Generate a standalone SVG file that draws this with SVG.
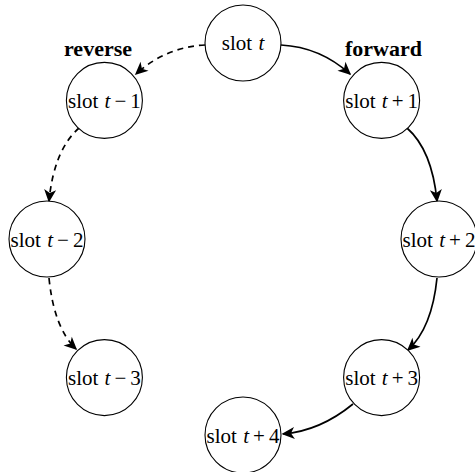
<svg xmlns="http://www.w3.org/2000/svg" width="475" height="472" viewBox="0 0 475 472">
<style>
.node circle{fill:#fff;stroke:#000;stroke-width:1.1}
.node text{font-family:"Liberation Serif","Times New Roman",serif;font-size:21px;text-anchor:middle;fill:#000}
.it{font-style:italic}
.lbl{font-family:"Liberation Serif","Times New Roman",serif;font-size:22px;font-weight:bold;fill:#000}
.conn path{fill:none;stroke:#000;stroke-width:1.7}
.conn path.dash{stroke-dasharray:6 5}
</style>
<defs>
<marker id="arr" viewBox="-14 -7 16 14" refX="0" refY="0" markerWidth="16" markerHeight="14" markerUnits="userSpaceOnUse" orient="auto">
<path d="M1.5,0 L-11.5,-6 L-8,0 L-11.5,6 Z" fill="#000" stroke="none"/>
</marker>
</defs>
<g id="connectors" class="conn">
<path d="M281,45 Q320,47 350,74" marker-end="url(#arr)"/>
<path d="M407,128 Q432,150 437,201" marker-end="url(#arr)"/>
<path d="M437,278 Q432,328 408,350" marker-end="url(#arr)"/>
<path d="M353,404 Q320,431 283,434" marker-end="url(#arr)"/>
<path class="dash" d="M205,45 Q166,47 136,74" marker-end="url(#arr)"/>
<path class="dash" d="M79,128 Q54,150 49,201" marker-end="url(#arr)"/>
<path class="dash" d="M49,278 Q54,328 76,349" marker-end="url(#arr)"/>
</g>
<g id="labels">
<text class="lbl" x="64" y="56">reverse</text>
<text class="lbl" x="345" y="56">forward</text>
</g>
<g id="slot-t" class="node"><circle cx="243" cy="43" r="38"/><text x="243" y="50">slot <tspan dx="1" class="it">t</tspan></text></g>
<g id="slot-t-plus-1" class="node"><circle cx="381.6" cy="100.4" r="38"/><text x="381.6" y="108">slot <tspan dx="1" class="it">t</tspan><tspan dx="4">+</tspan><tspan dx="4">1</tspan></text></g>
<g id="slot-t-plus-2" class="node"><circle cx="439" cy="239" r="38"/><text x="439" y="247">slot <tspan dx="1" class="it">t</tspan><tspan dx="4">+</tspan><tspan dx="4">2</tspan></text></g>
<g id="slot-t-plus-3" class="node"><circle cx="381.6" cy="377.6" r="38"/><text x="381.6" y="385">slot <tspan dx="1" class="it">t</tspan><tspan dx="4">+</tspan><tspan dx="4">3</tspan></text></g>
<g id="slot-t-plus-4" class="node"><circle cx="243" cy="435" r="38"/><text x="243" y="443">slot <tspan dx="1" class="it">t</tspan><tspan dx="4">+</tspan><tspan dx="4">4</tspan></text></g>
<g id="slot-t-minus-1" class="node"><circle cx="104.4" cy="100.4" r="38"/><text x="104.4" y="108">slot <tspan dx="1" class="it">t</tspan><tspan dx="4">−</tspan><tspan dx="4">1</tspan></text></g>
<g id="slot-t-minus-2" class="node"><circle cx="47" cy="239" r="38"/><text x="47" y="247">slot <tspan dx="1" class="it">t</tspan><tspan dx="4">−</tspan><tspan dx="4">2</tspan></text></g>
<g id="slot-t-minus-3" class="node"><circle cx="104.4" cy="377.6" r="38"/><text x="104.4" y="385">slot <tspan dx="1" class="it">t</tspan><tspan dx="4">−</tspan><tspan dx="4">3</tspan></text></g>
</svg>
